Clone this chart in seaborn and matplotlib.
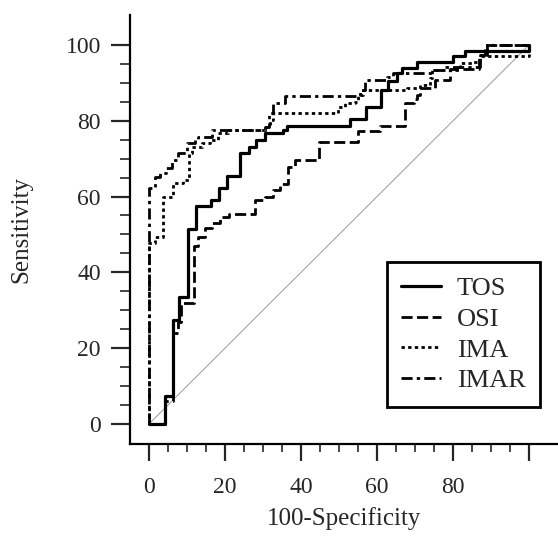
import matplotlib
matplotlib.use("Agg")
import matplotlib.pyplot as plt
import numpy as np
import pandas as pd
import seaborn as sns

# ROC step curves: (x where the jump happens, sensitivity after the jump)
tos_x = [0, 4.2, 6.2, 8.0, 10.2, 12.3, 16.3, 18.5, 20.6, 23.9, 26.4, 28.2, 30.5, 35.3, 36.2,
         52.9, 57.2, 61.0, 63.0, 65.2, 66.5, 70.4, 80.0, 83.2, 100]
tos_y = [0, 7.4, 27.4, 33.4, 51.4, 57.5, 59.1, 62.2, 65.5, 71.4, 73.2, 75.0, 76.7, 77.6, 78.6,
         80.4, 83.5, 88.0, 90.5, 92.5, 93.8, 95.4, 97.0, 98.4, 100]

osi_x = [0, 4.2, 6.2, 7.7, 8.3, 11.9, 13.0, 14.7, 16.5, 18.7, 21.0, 27.9, 30.5, 32.7, 34.5,
         36.5, 38.4, 44.8, 55.1, 60.8, 67.4, 69.6, 70.4, 71.3, 75.3, 79.2, 86.7, 88.5, 100]
osi_y = [0, 6.0, 24.0, 27.0, 32.0, 47.0, 49.4, 51.6, 53.0, 54.7, 55.5, 59.1, 60.0, 61.7, 63.2,
         67.9, 69.7, 74.5, 77.4, 78.6, 84.6, 85.8, 86.8, 88.6, 90.8, 93.6, 97.4, 100, 100]

ima_x = [0, 0, 1.6, 3.6, 6.4, 9.0, 10.4, 11.2, 13.9, 16.0, 18.2, 20.8, 30.5, 31.8, 32.7,
         49.8, 51.5, 54.2, 55.1, 56.4, 68.0, 71.3, 73.9, 74.5, 81.8, 85.3, 87.1, 100]
ima_y = [0, 47.7, 49.4, 60.0, 63.5, 64.4, 71.4, 73.2, 74.1, 74.9, 76.7, 77.6, 78.4, 80.2, 82.0,
         83.7, 84.6, 85.0, 86.8, 88.0, 88.6, 89.5, 91.2, 93.4, 95.2, 95.6, 97.1, 100]

imar_x = [0, 0, 1.5, 2.9, 4.5, 6.0, 7.7, 9.9, 12.1, 13.0, 16.5, 30.5, 31.5, 32.7, 35.8,
          55.5, 56.8, 62.5, 64.3, 74.4, 77.5, 87.1, 89.0, 100]
imar_y = [0, 62.2, 65.2, 66.1, 67.5, 69.7, 71.4, 74.1, 74.9, 75.8, 77.6, 78.4, 82.0, 84.6, 86.5,
          88.1, 90.8, 91.6, 92.5, 93.4, 94.3, 97.4, 100, 100]

diag = [0, 100]

names = ["TOS", "OSI", "IMA", "IMAR"]
xs = [tos_x, osi_x, ima_x, imar_x]
ys = [tos_y, osi_y, ima_y, imar_y]
styles = ["-", (0, (4, 1.6)), (0, (1.2, 1.2)), (0, (4, 1.5, 1.2, 1.5))]
widths = [2.3, 2.0, 2.0, 2.0]

sns.set_style("ticks")
plt.rcParams["font.family"] = ["Liberation Serif", "DejaVu Serif"]

fig = plt.figure(figsize=(5.58, 5.36), dpi=100)
ax = fig.add_axes([130 / 558, 1 - 444 / 536, 428 / 558, 429 / 536])

sns.lineplot(x=diag, y=diag, color="#999999", linewidth=0.7, ax=ax)
for name, x, y, ls, lw in zip(names, xs, ys, styles, widths):
    df = pd.DataFrame({"x": x, "y": y})
    sns.lineplot(data=df, x="x", y="y", sort=False, estimator=None, drawstyle="steps-post",
                 color="black", linestyle=ls, linewidth=lw, label=name, ax=ax, clip_on=False)

ax.set_xlim(-5.0, 107.6)
ax.set_ylim(-5.3, 107.9)
for side in ["top", "right"]:
    ax.spines[side].set_visible(False)
for side in ["left", "bottom"]:
    ax.spines[side].set_linewidth(1.6)
    ax.spines[side].set_color("black")

ax.set_xticks(np.arange(0, 101, 20))
ax.set_xticklabels(["0", "20", "40", "60", "80", ""])
ax.set_yticks(np.arange(0, 101, 20))
ax.set_xticks(np.arange(0, 101, 5), minor=True)
ax.set_yticks(np.arange(0, 101, 5), minor=True)
ax.tick_params(axis="x", which="major", length=12, width=1.6, direction="out", labelsize=17, pad=12)
ax.tick_params(axis="x", which="minor", length=6, width=1.2, direction="out")
ax.tick_params(axis="y", which="major", length=14, width=1.6, direction="out", labelsize=17, pad=7)
ax.tick_params(axis="y", which="minor", length=7, width=1.2, direction="out")

ax.set_xlabel("100-Specificity", fontsize=18, labelpad=6)
ax.set_ylabel("Sensitivity", fontsize=18, labelpad=24)

leg = ax.legend(loc="lower right", bbox_to_anchor=(540 / 558, 1 - 407 / 536),
                bbox_transform=fig.transFigure, fontsize=19, frameon=True, fancybox=False,
                handlelength=1.5, handletextpad=0.6, labelspacing=0.28, borderpad=0.55,
                borderaxespad=0)
leg.get_frame().set_edgecolor("black")
leg.get_frame().set_linewidth(2.0)
leg.get_frame().set_alpha(1)

fig.savefig("out.png", dpi=100)
